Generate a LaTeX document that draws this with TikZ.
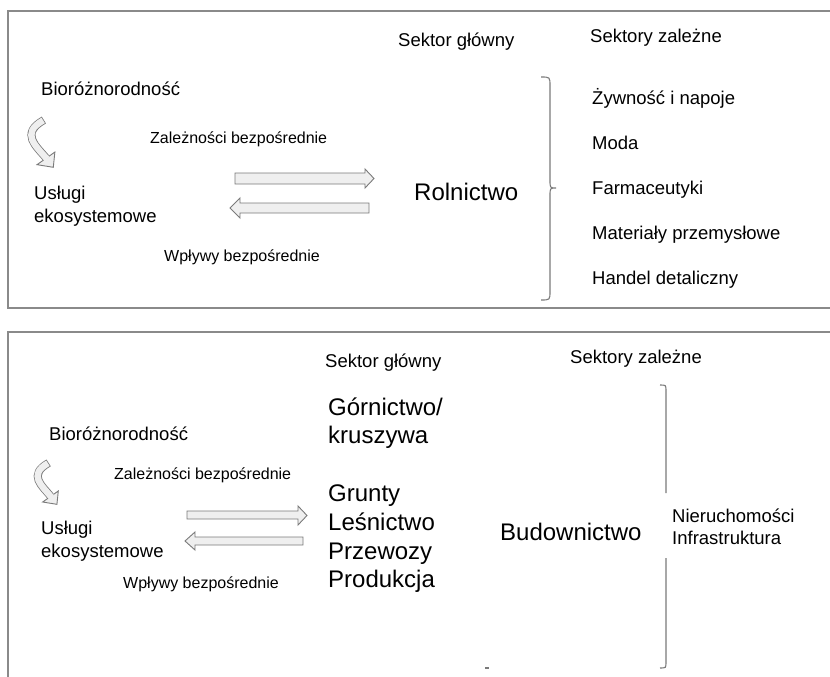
\documentclass[tikz,border=0pt]{standalone}
\usepackage{fontspec}
\setmainfont{Liberation Sans}
\definecolor{bordergray}{HTML}{8A8A8A}
\definecolor{arrowgray}{HTML}{7A7A7A}
\definecolor{arrowfill}{HTML}{EFEFEF}
\tikzset{
  txt/.style={inner sep=0pt, anchor=base west, font=\fontsize{18.5}{22}\selectfont},
  lab/.style={inner sep=0pt, anchor=base west, font=\fontsize{16}{19}\selectfont},
  big/.style={inner sep=0pt, anchor=base west, font=\fontsize{24}{28}\selectfont},
  panel/.style={draw=bordergray, line width=1.5pt},
  blockarrow/.style={draw=arrowgray, fill=arrowfill, line width=0.9pt, line join=miter},
  bracegray/.style={draw=arrowgray, line width=1.1pt},
  curvarrow/.pic={
    \draw[draw=arrowgray, line width=8pt] (17,1) .. controls (-6,14) and (10,26) .. (19,37);
    \draw[blockarrow] (27.5,31.5) -- (26,46) -- (10.5,43.5) -- cycle;
    \draw[draw=arrowfill, line width=6.4pt, shorten <=0.8pt, shorten >=-1.5pt] (17,1) .. controls (-6,14) and (10,26) .. (19,37);
  }
}
\begin{document}
\begin{tikzpicture}[x=1pt,y=-1pt]
\useasboundingbox (0,0) rectangle (830,677);
\fill[white] (0,0) rectangle (830,677);
% panels
\draw[panel] (840,11) -- (8,11) -- (8,308) -- (840,308);
\draw[panel] (840,332) -- (8,332) -- (8,690);

% ---------- top panel ----------
\node[txt] (sg1) at (398,46.5) {Sektor główny};
\node[txt] (sz1) at (590,42.5) {Sektory zależne};
\node[txt] (bio1) at (41,95.5) {Bioróżnorodność};
\node[lab] (zal1) at (150,143.7) {Zależności bezpośrednie};
\node[txt] (usl1) at (34,199.5) {Usługi};
\node[txt] (eko1) at (34,222.5) {ekosystemowe};
\node[lab] (wpl1) at (164,261.7) {Wpływy bezpośrednie};
\node[big] (rol) at (414,200.6) {Rolnictwo};
\node[txt] (d1) at (592,104.5) {Żywność i napoje};
\node[txt] (d2) at (592,149.5) {Moda};
\node[txt] (d3) at (592,194.5) {Farmaceutyki};
\node[txt] (d4) at (592,239.5) {Materiały przemysłowe};
\node[txt] (d5) at (592,284.5) {Handel detaliczny};

\pic[scale=1.05] at (26,119) {curvarrow};
\draw[blockarrow] (235,173) -- (365,173) -- (365,169) -- (374,178.5) -- (365,188) -- (365,184) -- (235,184) -- cycle;
\draw[blockarrow] (369,203) -- (240,203) -- (240,198) -- (230,208) -- (240,218) -- (240,213) -- (369,213) -- cycle;

\draw[bracegray] (541,77) .. controls (550,77) .. (550,86) -- (550,180)
  .. controls (550,188) .. (556,188) .. controls (550,188) .. (550,196)
  -- (550,291) .. controls (550,300) .. (541,300);

% ---------- bottom panel ----------
\node[txt] (sg2) at (325,367.5) {Sektor główny};
\node[txt] (sz2) at (570,363.5) {Sektory zależne};
\node[big] (gor) at (328,415.6) {Górnictwo/};
\node[big] (kru) at (328,443.6) {kruszywa};
\node[txt] (bio2) at (49,440.5) {Bioróżnorodność};
\node[lab] (zal2) at (114,479.7) {Zależności bezpośrednie};
\node[big] (gru) at (328,501.6) {Grunty};
\node[big] (les) at (328,530.6) {Leśnictwo};
\node[big] (prz) at (328,559.6) {Przewozy};
\node[big] (pro) at (328,587.6) {Produkcja};
\node[txt] (usl2) at (41,534.5) {Usługi};
\node[txt] (eko2) at (41,557.5) {ekosystemowe};
\node[lab] (wpl2) at (123,588.7) {Wpływy bezpośrednie};
\node[big] (bud) at (500,540.6) {Budownictwo};
\node[txt] (nie) at (672,522.5) {Nieruchomości};
\node[txt] (inf) at (672,544.5) {Infrastruktura};

\pic[scale=0.92] at (33,462) {curvarrow};
\draw[blockarrow] (187,511) -- (298,511) -- (298,506) -- (307,515.5) -- (298,525) -- (298,519) -- (187,519) -- cycle;
\draw[blockarrow] (303,537) -- (195,537) -- (195,532) -- (185,541) -- (195,550) -- (195,545) -- (303,545) -- cycle;

\draw[bracegray] (660,385) .. controls (666,385) .. (666,391) -- (666,493);
\draw[bracegray] (666,558) -- (666,662) .. controls (666,668) .. (660,668);
\draw[draw=arrowgray, line width=1.5pt] (485,668) -- (489,668);
\end{tikzpicture}
\end{document}
